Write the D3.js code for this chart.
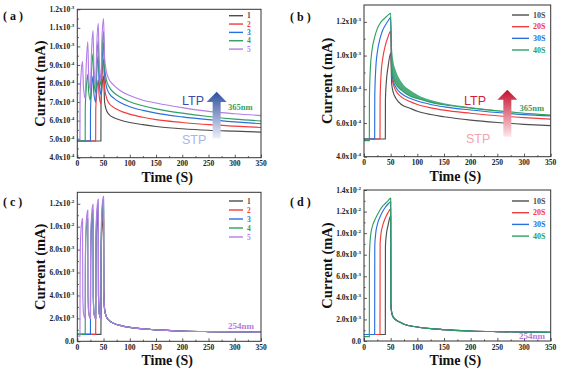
<!DOCTYPE html>
<html>
<head>
<meta charset="utf-8">
<style>
  body { margin: 0; background: #fff; }
  svg { display: block; }
  .axis .domain { display: none; }
  .axis .tick line { stroke: #333; stroke-width: 0.8px; }
  .tlab { font-family: 'Liberation Serif', serif; font-weight: bold; font-size: 7.5px; fill: #222; }
  .ttl { font-family: 'Liberation Serif', serif; font-weight: bold; fill: #111; }
  .leg { font-family: 'Liberation Serif', serif; font-weight: bold; }
  .ann { font-family: 'Liberation Sans', Arial, sans-serif; font-size: 12.5px; }
</style>
</head>
<body>
<svg width="568" height="371"></svg>
<script src="https://d3js.org/d3.v7.min.js"></script>
<script>

// ---- data ----
const colors = ["#4d4d4d", "#f23b3b", "#2a6fe0", "#2f9e63", "#b47ee8"];
const xTicks = [0, 50, 100, 150, 200, 250, 300, 350];

// (a) 365nm, number of pulses
const legendA = ["1", "2", "3", "4", "5"];
const yTicksA = [4e-4, 5e-4, 6e-4, 7e-4, 8e-4, 9e-4, 1e-3, 1.1e-3, 1.2e-3];
const a1 = [[0,4.9e-4],[45,4.9e-4],[45.2,7.0e-4],[47,7.8e-4],[50,8.4e-4],[52,7.0e-4],[55,6.6e-4],[60,6.35e-4],[70,6.15e-4],[80,6.05e-4],[100,5.9e-4],[125,5.78e-4],[150,5.68e-4],[200,5.56e-4],[250,5.48e-4],[300,5.43e-4],[350,5.38e-4]];
const a2 = [[0,4.9e-4],[35,4.9e-4],[35.2,6.6e-4],[37,7.5e-4],[40,8.2e-4],[41.5,7.4e-4],[45,6.9e-4],[47,8.3e-4],[50,9.3e-4],[52,7.8e-4],[55,7.3e-4],[60,6.95e-4],[70,6.7e-4],[80,6.55e-4],[100,6.35e-4],[125,6.18e-4],[150,6.05e-4],[200,5.9e-4],[250,5.78e-4],[300,5.7e-4],[350,5.63e-4]];
const a3 = [[0,4.9e-4],[25,4.9e-4],[25.2,6.6e-4],[27,7.6e-4],[30,8.4e-4],[31.5,7.5e-4],[35,7.0e-4],[37,8.5e-4],[40,9.5e-4],[41.5,8.1e-4],[45,7.4e-4],[47,9.0e-4],[50,1.02e-3],[52,8.5e-4],[55,7.9e-4],[60,7.5e-4],[70,7.2e-4],[80,7.0e-4],[100,6.75e-4],[125,6.55e-4],[150,6.4e-4],[200,6.2e-4],[250,6.05e-4],[300,5.93e-4],[350,5.83e-4]];
const a4 = [[0,4.9e-4],[15,4.9e-4],[15.2,6.7e-4],[17,7.7e-4],[20,8.5e-4],[21.5,7.6e-4],[25,7.1e-4],[27,8.6e-4],[30,9.6e-4],[31.5,8.2e-4],[35,7.5e-4],[37,9.2e-4],[40,1.03e-3],[41.5,8.7e-4],[45,7.9e-4],[47,9.6e-4],[50,1.08e-3],[52,8.9e-4],[55,8.25e-4],[60,7.85e-4],[70,7.5e-4],[80,7.3e-4],[100,7.02e-4],[125,6.8e-4],[150,6.63e-4],[200,6.4e-4],[250,6.22e-4],[300,6.08e-4],[350,5.98e-4]];
const a5 = [[0,5.0e-4],[5,5.0e-4],[5.2,7.2e-4],[7,8.4e-4],[10,9.2e-4],[11.5,7.9e-4],[15,7.2e-4],[17,9.0e-4],[20,1.025e-3],[21.5,8.6e-4],[25,7.6e-4],[27,9.6e-4],[30,1.085e-3],[31.5,9.0e-4],[35,7.9e-4],[37,1.0e-3],[40,1.125e-3],[41.5,9.3e-4],[45,8.2e-4],[47,1.04e-3],[50,1.15e-3],[52,9.4e-4],[55,8.7e-4],[60,8.25e-4],[70,7.9e-4],[80,7.65e-4],[100,7.35e-4],[125,7.1e-4],[150,6.95e-4],[200,6.7e-4],[250,6.5e-4],[300,6.37e-4],[350,6.27e-4]];

// (b) 365nm, pulse width
const legendB = ["10S", "20S", "30S", "40S"];
const yTicksB = [4e-4, 6e-4, 8e-4, 1e-3, 1.2e-3];
const b1 = [[0,5.05e-4],[40,5.05e-4],[40.2,7.4e-4],[42,8.5e-4],[45,9.3e-4],[50,1.015e-3],[52,8.3e-4],[55,7.8e-4],[60,7.45e-4],[70,7.1e-4],[86,6.88e-4],[100,6.7e-4],[125,6.5e-4],[150,6.37e-4],[200,6.17e-4],[250,6.03e-4],[300,5.92e-4],[350,5.84e-4]];
const b2 = [[0,5.05e-4],[30,5.05e-4],[30.2,7.4e-4],[32,8.9e-4],[35,9.8e-4],[40,1.06e-3],[45,1.11e-3],[50,1.145e-3],[52,8.8e-4],[55,8.3e-4],[60,7.9e-4],[70,7.55e-4],[86,7.27e-4],[100,7.1e-4],[125,6.9e-4],[150,6.76e-4],[200,6.58e-4],[250,6.43e-4],[300,6.32e-4],[350,6.23e-4]];
const b3 = [[0,5.05e-4],[20,5.05e-4],[20.2,7.6e-4],[22,9.2e-4],[25,1.02e-3],[30,1.1e-3],[35,1.15e-3],[40,1.18e-3],[45,1.205e-3],[50,1.225e-3],[52,9.0e-4],[55,8.5e-4],[60,8.1e-4],[70,7.75e-4],[86,7.47e-4],[100,7.3e-4],[125,7.1e-4],[150,6.96e-4],[200,6.77e-4],[250,6.62e-4],[300,6.5e-4],[350,6.42e-4]];
const b4 = [[0,4.95e-4],[10,4.95e-4],[10.2,7.5e-4],[12,9.3e-4],[15,1.03e-3],[20,1.11e-3],[25,1.16e-3],[30,1.19e-3],[35,1.21e-3],[40,1.225e-3],[45,1.24e-3],[50,1.25e-3],[52,9.2e-4],[55,8.7e-4],[60,8.3e-4],[70,7.95e-4],[86,7.6e-4],[100,7.45e-4],[125,7.22e-4],[150,7.08e-4],[200,6.88e-4],[250,6.72e-4],[300,6.58e-4],[350,6.47e-4]];
// noisy green band after switch-off: [t, low, high]
const b4Band = [[50,1.25e-3,1.25e-3],[52,9.2e-4,1.08e-3],[55,8.7e-4,9.7e-4],[60,8.3e-4,9.1e-4],[70,7.95e-4,8.45e-4],[86,7.6e-4,7.95e-4],[100,7.45e-4,7.68e-4],[125,7.22e-4,7.36e-4],[150,7.08e-4,7.17e-4],[200,6.88e-4,6.94e-4],[250,6.72e-4,6.76e-4],[300,6.58e-4,6.6e-4],[350,6.47e-4,6.48e-4]];

// (c) 254nm, number of pulses
const yTicksC = [0, 2e-3, 4e-3, 6e-3, 8e-3, 1e-2, 1.2e-2];
const cDecay = [[50.4,4.5e-3],[52,2.8e-3],[55,2.2e-3],[60,1.85e-3],[70,1.55e-3],[85,1.35e-3],[100,1.22e-3],[125,1.08e-3],[150,1.0e-3],[200,9.0e-4],[250,8.5e-4],[300,8.2e-4],[350,8.0e-4]];
const c1 = [[0,6e-4],[45,6e-4],[45.15,2.0e-3],[45.3,6.0e-3],[46,8.6e-3],[47.5,1.0e-2],[50,1.07e-2]];
const c2 = [[0,6e-4],[35,6e-4],[35.15,2.0e-3],[35.3,6.0e-3],[36,8.6e-3],[37.5,1.0e-2],[40,1.07e-2],[40.4,4.0e-3],[42,2.4e-3],[45,2.0e-3],[45.3,6.3e-3],[46,9.2e-3],[47.5,1.07e-2],[50,1.145e-2]];
const c3 = [[0,6e-4],[25,6e-4],[25.15,2.0e-3],[25.3,6.0e-3],[26,8.6e-3],[27.5,1.0e-2],[30,1.07e-2],[30.4,4.0e-3],[32,2.4e-3],[35,2.0e-3],[35.3,6.3e-3],[36,9.2e-3],[37.5,1.07e-2],[40,1.145e-2],[40.4,4.0e-3],[42,2.4e-3],[45,2.0e-3],[45.3,6.5e-3],[46,9.6e-3],[47.5,1.12e-2],[50,1.195e-2]];
const c4 = [[0,6e-4],[15,6e-4],[15.15,2.0e-3],[15.3,6.0e-3],[16,8.6e-3],[17.5,1.0e-2],[20,1.07e-2],[20.4,4.0e-3],[22,2.4e-3],[25,2.0e-3],[25.3,6.3e-3],[26,9.2e-3],[27.5,1.07e-2],[30,1.145e-2],[30.4,4.0e-3],[32,2.4e-3],[35,2.0e-3],[35.3,6.5e-3],[36,9.6e-3],[37.5,1.12e-2],[40,1.195e-2],[40.4,4.0e-3],[42,2.4e-3],[45,2.0e-3],[45.3,6.7e-3],[46,1.0e-2],[47.5,1.16e-2],[50,1.24e-2]];
const c5 = [[0,4.5e-4],[5,4.5e-4],[5.15,2.0e-3],[5.3,6.0e-3],[6,8.6e-3],[7.5,1.0e-2],[10,1.07e-2],[10.4,4.0e-3],[12,2.4e-3],[15,2.0e-3],[15.3,6.3e-3],[16,9.2e-3],[17.5,1.07e-2],[20,1.145e-2],[20.4,4.0e-3],[22,2.4e-3],[25,2.0e-3],[25.3,6.5e-3],[26,9.6e-3],[27.5,1.12e-2],[30,1.195e-2],[30.4,4.0e-3],[32,2.4e-3],[35,2.0e-3],[35.3,6.7e-3],[36,1.0e-2],[37.5,1.16e-2],[40,1.24e-2],[40.4,4.0e-3],[42,2.4e-3],[45,2.0e-3],[45.3,6.8e-3],[46,1.02e-2],[47.5,1.19e-2],[50,1.265e-2]];

// (d) 254nm, pulse width
const yTicksD = [0, 2e-3, 4e-3, 6e-3, 8e-3, 1e-2, 1.2e-2, 1.4e-2];
const dDecay = [[50.3,3.5e-3],[52,2.6e-3],[55,2.2e-3],[60,1.95e-3],[65,1.8e-3],[75,1.55e-3],[100,1.3e-3],[150,1.05e-3],[200,9.3e-4],[250,8.7e-4],[300,8.3e-4],[350,8.1e-4]];
const d10s = [[0,6e-4],[40,6e-4],[40.2,8.8e-3],[42,9.9e-3],[45,1.07e-2],[50,1.16e-2]];
const d20s = [[0,6e-4],[30,6e-4],[30.2,9.0e-3],[32,1.0e-2],[35,1.07e-2],[40,1.14e-2],[45,1.19e-2],[50,1.225e-2]];
const d30s = [[0,6e-4],[20,6e-4],[20.2,8.8e-3],[22,1.0e-2],[25,1.08e-2],[30,1.15e-2],[35,1.2e-2],[40,1.24e-2],[45,1.27e-2],[50,1.29e-2]];
const d40s = [[0,4e-4],[10,4e-4],[10.2,8.0e-3],[12,9.6e-3],[15,1.05e-2],[20,1.12e-2],[25,1.17e-2],[30,1.215e-2],[35,1.25e-2],[40,1.275e-2],[45,1.3e-2],[50,1.325e-2]];

// ---- drawing ----
let svg = d3.select("svg");
let defs = svg.append("defs");

function tickText(v) {
    if (v === 0) return ["0.0", ""];
    let e = Math.floor(Math.log10(v) + 1e-9);
    return [(v / Math.pow(10, e)).toFixed(1) + "x10", String(e)];
}

function drawPanel(p) {
    let x = d3.scaleLinear().domain([0, 350]).range([p.left, p.right]);
    let y = d3.scaleLinear().domain(p.ydom).range([p.bottom, p.top]);
    let g = svg.append("g");

    defs.append("clipPath").attr("id", "clip-" + p.id)
        .append("rect").attr("x", p.left).attr("y", p.top)
        .attr("width", p.right - p.left).attr("height", p.bottom - p.top);

    // minor + major ticks, pointing inward
    let xMinor = xTicks.slice(1).map((t, i) => (t + xTicks[i]) / 2);
    let yMinor = p.yticks.slice(1).map((t, i) => (t + p.yticks[i]) / 2);
    g.append("g").attr("class", "axis").attr("transform", `translate(0,${p.bottom})`)
        .call(d3.axisBottom(x).tickValues(xTicks).tickSizeInner(-3).tickSizeOuter(0).tickFormat(""));
    g.append("g").attr("class", "axis").attr("transform", `translate(0,${p.bottom})`)
        .call(d3.axisBottom(x).tickValues(xMinor).tickSizeInner(-1.6).tickSizeOuter(0).tickFormat(""));
    g.append("g").attr("class", "axis").attr("transform", `translate(${p.left},0)`)
        .call(d3.axisLeft(y).tickValues(p.yticks).tickSizeInner(-3).tickSizeOuter(0).tickFormat(""));
    g.append("g").attr("class", "axis").attr("transform", `translate(${p.left},0)`)
        .call(d3.axisLeft(y).tickValues(yMinor).tickSizeInner(-1.6).tickSizeOuter(0).tickFormat(""));

    g.selectAll(".xl").data(xTicks).join("text")
        .attr("class", "tlab").attr("text-anchor", "middle")
        .attr("x", d => x(d)).attr("y", p.bottom + 8.6)
        .text(d => d);

    let yl = g.selectAll(".yl").data(p.yticks).join("text")
        .attr("class", "tlab").attr("text-anchor", "end")
        .attr("x", p.left - 3).attr("y", d => y(d) + 2.6);
    yl.append("tspan").text(d => tickText(d)[0]);
    yl.append("tspan").attr("dy", -3).attr("font-size", "5px").text(d => tickText(d)[1]);

    // curves
    let line = d3.line().x(d => x(d[0])).y(d => y(d[1])).curve(d3.curveMonotoneX);
    let cg = g.append("g").attr("clip-path", `url(#clip-${p.id})`);
    if (p.band) {
        let area = d3.area().x(d => x(d[0])).y0(d => y(d[1])).y1(d => y(d[2])).curve(d3.curveMonotoneX);
        cg.append("path").attr("d", area(p.band)).attr("fill", colors[3]).attr("opacity", 0.85);
    }
    p.series.forEach((s, i) => {
        cg.append("path").attr("d", line(s))
            .attr("fill", "none").attr("stroke", colors[i])
            .attr("stroke-width", 1.15).attr("stroke-linejoin", "round");
    });

    // frame
    g.append("rect").attr("x", p.left).attr("y", p.top)
        .attr("width", p.right - p.left).attr("height", p.bottom - p.top)
        .attr("fill", "none").attr("stroke", "#333").attr("stroke-width", 1);

    // legend
    p.legend.forEach((name, i) => {
        let ly = p.legY + i * p.legStep;
        g.append("line").attr("x1", p.legX).attr("x2", p.legX + p.legLen)
            .attr("y1", ly).attr("y2", ly)
            .attr("stroke", colors[i]).attr("stroke-width", 1.4);
        g.append("text").attr("class", "leg").attr("x", p.legX + p.legLen + 4).attr("y", ly + 2.7)
            .attr("font-size", p.legFont).attr("fill", colors[i]).text(name);
    });

    // titles
    g.append("text").attr("class", "ttl").attr("font-size", "14.5px")
        .attr("text-anchor", "middle")
        .attr("transform", `translate(${p.left - 32},${(p.top + p.bottom) / 2}) rotate(-90)`)
        .text("Current (mA)");
    g.append("text").attr("class", "ttl").attr("font-size", "14px")
        .attr("text-anchor", "middle")
        .attr("x", (p.left + p.right) / 2 - 2).attr("y", p.bottom + 24)
        .text("Time (S)");
    g.append("text").attr("class", "ttl").attr("font-size", "12px")
        .attr("x", p.labX).attr("y", p.labY).attr("xml:space", "preserve")
        .text("( " + p.id + " )");

    return { x, y, g };
}

function gradArrow(id, p, top, bottom, cx, tipV, baseV, botV) {
    let gr = defs.append("linearGradient").attr("id", id)
        .attr("x1", 0).attr("y1", 1).attr("x2", 0).attr("y2", 0);
    gr.append("stop").attr("offset", "0%").attr("stop-color", bottom);
    gr.append("stop").attr("offset", "100%").attr("stop-color", top);
    let X = p.x(cx), tip = p.y(tipV), base = p.y(baseV), bot = p.y(botV);
    let pts = [[X, tip], [X + 10, base], [X + 4, base], [X + 4, bot], [X - 4, bot], [X - 4, base], [X - 10, base]];
    p.g.append("path").attr("d", "M" + pts.join("L") + "Z").attr("fill", `url(#${id})`);
}

let pa = drawPanel({ id: "a", left: 77.3, right: 261, top: 9.3, bottom: 157.7, ydom: [4e-4, 1.2e-3],
    yticks: yTicksA, series: [a1, a2, a3, a4, a5], legend: legendA,
    legX: 229, legY: 15.7, legStep: 8.35, legLen: 14, legFont: "7.5px", labX: 3, labY: 20 });
let pb = drawPanel({ id: "b", left: 364, right: 550.7, top: 5, bottom: 156.7, ydom: [4e-4, 1.3e-3],
    yticks: yTicksB, series: [b1, b2, b3, b4], band: b4Band, legend: legendB,
    legX: 512, legY: 15, legStep: 11.67, legLen: 17, legFont: "8px", labX: 290, labY: 21 });
let pc = drawPanel({ id: "c", left: 77.3, right: 261, top: 192.3, bottom: 341.3, ydom: [0, 1.3e-2],
    yticks: yTicksC, series: [c1.concat(cDecay), c2.concat(cDecay), c3.concat(cDecay), c4.concat(cDecay), c5.concat(cDecay)],
    legend: legendA, legX: 229, legY: 201, legStep: 9, legLen: 14, legFont: "7.5px", labX: 3, labY: 206 });
let pd = drawPanel({ id: "d", left: 364, right: 550.7, top: 190, bottom: 341, ydom: [0, 1.4e-2],
    yticks: yTicksD, series: [d10s.concat(dDecay), d20s.concat(dDecay), d30s.concat(dDecay), d40s.concat(dDecay)],
    legend: legendB, legX: 512, legY: 201, legStep: 11.7, legLen: 17, legFont: "8px", labX: 290, labY: 206 });

// annotations
gradArrow("arrA", pa, "#2d4f9f", "#eef1fa", 265.5, 7.55e-4, 7.0e-4, 5.03e-4);
gradArrow("arrB", pb, "#c4102c", "#fde6ea", 268.7, 7.97e-4, 7.38e-4, 5.19e-4);

svg.append("text").attr("class", "ann").attr("x", 182).attr("y", 104.5).attr("fill", "#3a4fa8").text("LTP");
svg.append("text").attr("class", "ann").attr("x", 182).attr("y", 144).attr("fill", "#a8b5ec").text("STP");
svg.append("text").attr("class", "ann").attr("x", 464).attr("y", 104.5).attr("fill", "#d0203a").text("LTP");
svg.append("text").attr("class", "ann").attr("x", 466).attr("y", 143).attr("fill", "#f4a3b0").text("STP");

svg.append("text").attr("class", "leg").attr("font-size", "8.5px").attr("x", 228).attr("y", 109.5).attr("fill", "#35a060").text("365nm");
svg.append("text").attr("class", "leg").attr("font-size", "8.5px").attr("x", 519.5).attr("y", 110.5).attr("fill", "#35a060").text("365nm");
svg.append("text").attr("class", "leg").attr("font-size", "9px").attr("x", 228).attr("y", 329).attr("fill", "#b57be0").text("254nm");
svg.append("text").attr("class", "leg").attr("font-size", "9px").attr("x", 519).attr("y", 338.5).attr("fill", "#b57be0").text("254nm");

</script>
</body>
</html>
